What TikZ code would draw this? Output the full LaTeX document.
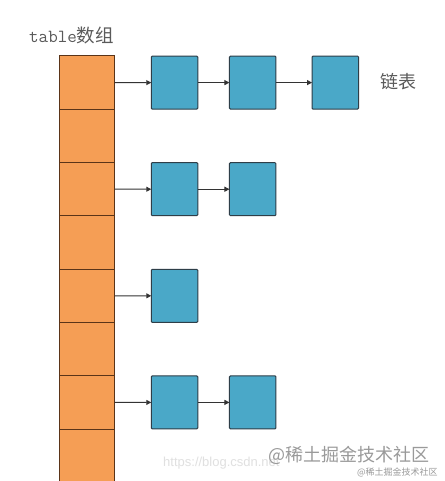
\documentclass[tikz,border=0pt]{standalone}
\usepackage{fontspec}
\newfontfamily\cjk{Noto Sans CJK SC}
\setmainfont{Liberation Sans}
\setmonofont{Latin Modern Mono}
\usetikzlibrary{arrows.meta}
\definecolor{cellorange}{HTML}{F59E55}
\definecolor{cellborder}{HTML}{5A3418}
\definecolor{nodeblue}{HTML}{4AA8C8}
\definecolor{nodeborder}{HTML}{2E3E48}
\definecolor{labelgrey}{HTML}{5A5A5A}
\definecolor{wmgrey}{HTML}{9A9A9A}
\tikzset{
  cellbox/.style={draw=cellborder, fill=cellorange, line width=1pt, minimum width=55.5pt, minimum height=53.3pt, inner sep=0pt, outer sep=0pt},
  listbox/.style={draw=nodeborder, fill=nodeblue, line width=1pt, rounded corners=1pt, minimum width=46.5pt, minimum height=53pt, inner sep=0pt, outer sep=0pt},
  link/.style={draw=black!80, line width=1pt, -{Triangle[length=5pt,width=5pt]}},
  lbl/.style={text=labelgrey, inner sep=0pt, anchor=west}
}
\begin{document}
\begin{tikzpicture}[x=1pt,y=-1pt]
\useasboundingbox (0,0) rectangle (444,481);
\clip (0,0) rectangle (444,481);
\fill[white] (0,0) rectangle (444,481);
% array cells
\foreach \i in {1,...,8}{
  \node[cellbox] (c\i) at (87, {56+53.3*(\i-0.5)}) {};
}
% linked list nodes
\node[listbox] (a1) at (174.5, 82.6) {};
\node[listbox] (a2) at (252.7, 82.6) {};
\node[listbox] (a3) at (335.3, 82.6) {};
\node[listbox] (b1) at (174.5, 189.2) {};
\node[listbox] (b2) at (252.7, 189.2) {};
\node[listbox] (d1) at (174.5, 295.8) {};
\node[listbox] (e1) at (174.5, 402.4) {};
\node[listbox] (e2) at (252.7, 402.4) {};
% connectors
\draw[link] (c1) -- (a1);
\draw[link] (a1) -- (a2);
\draw[link] (a2) -- (a3);
\draw[link] (c3) -- (b1);
\draw[link] (b1) -- (b2);
\draw[link] (c5) -- (d1);
\draw[link] (c7) -- (e1);
\draw[link] (e1) -- (e2);
% labels
\node[lbl, font=\fontsize{18.5}{18.5}\selectfont] (title) at (29, 35) {\ttfamily table\cjk 数组};
\node[lbl, font=\fontsize{18}{18}\selectfont\cjk] (listlbl) at (380, 82) {链表};
% watermarks
\node[lbl, text=black!12, font=\fontsize{13}{13}\selectfont] (wm0) at (163, 463) {https://blog.csdn.net};
\node[lbl, text=wmgrey, font=\fontsize{18}{18}\selectfont\cjk] (wm1) at (268, 455) {@稀土掘金技术社区};
\node[lbl, text=wmgrey, font=\fontsize{9}{9}\selectfont\cjk] (wm2) at (357, 472) {@稀土掘金技术社区};
\end{tikzpicture}
\end{document}
